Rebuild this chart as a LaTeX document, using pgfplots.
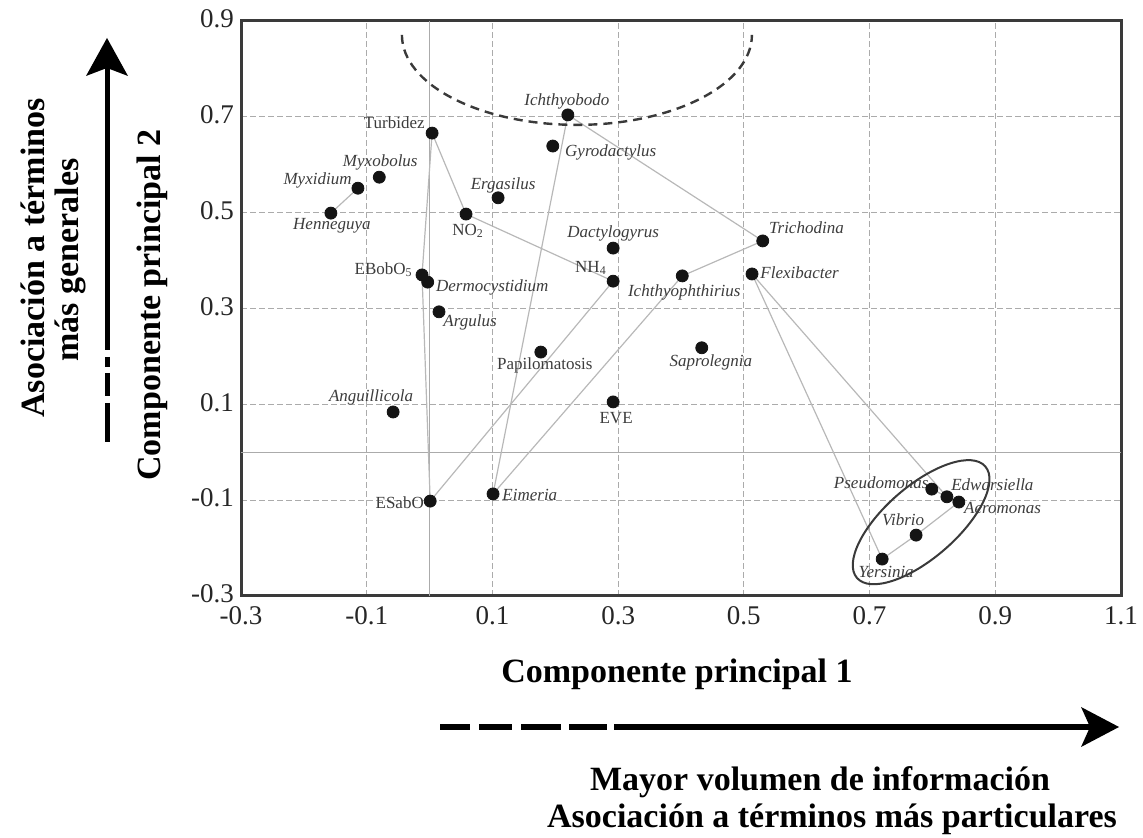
\documentclass[border=0pt]{standalone}
\usepackage{pgfplots}
\pgfplotsset{compat=1.18}
\usepackage{pgfplotstable}
\usepackage{fontspec}
\setmainfont{Liberation Serif}

\definecolor{dotc}{HTML}{141414}
\definecolor{linkc}{HTML}{B8B8B8}
\definecolor{labc}{HTML}{3C3C3C}
\definecolor{gridc}{HTML}{ABABAB}
\definecolor{framec}{HTML}{3A3A3A}

% loadings of each term on the first two principal components
\pgfplotstableread{
x       y
 0.220   0.704
 0.196   0.639
 0.004   0.666
-0.080   0.574
-0.114   0.551
-0.157   0.499
 0.109   0.531
 0.058   0.497
 0.292   0.426
 0.292   0.357
 0.402   0.368
 0.530   0.441
 0.513   0.372
-0.012   0.370
-0.003   0.355
 0.015   0.293
 0.177   0.209
 0.433   0.218
 0.292   0.105
-0.058   0.084
 0.001  -0.102
 0.101  -0.087
 0.799  -0.077
 0.823  -0.093
 0.842  -0.104
 0.774  -0.173
 0.720  -0.223
}\loadings

\tikzset{
  lbl/.style={font=\fontsize{8.5}{10}\selectfont, text=labc, inner sep=0pt},
  link/.style={draw=linkc, line width=0.6pt, mark=none},
  big/.style={font=\fontsize{17}{20}\selectfont\bfseries, inner sep=0pt},
}

\begin{document}
\begin{tikzpicture}
\useasboundingbox (0pt,0pt) rectangle (571.5pt,419pt);
\begin{axis}[
  at={(120.5pt,408.5pt)}, anchor=north west,
  width=440pt, height=287.5pt, scale only axis,
  xmin=-0.3, xmax=1.1, ymin=-0.3, ymax=0.9,
  xtick={-0.3,-0.1,0.1,0.3,0.5,0.7,0.9,1.1},
  xticklabels={-0.3,-0.1,0.1,0.3,0.5,0.7,0.9,1.1},
  ytick={-0.3,-0.1,0.1,0.3,0.5,0.7,0.9},
  yticklabels={-0.3,-0.1,0.1,0.3,0.5,0.7,0.9},
  major tick length=0pt,
  tick label style={font=\fontsize{13.5}{16}\selectfont, text=black!85},
  xticklabel style={inner sep=0pt, yshift=-5pt},
  yticklabel style={yshift=1pt},
  grid=major,
  major grid style={draw=gridc, line width=0.5pt, dash pattern=on 3pt off 1.5pt},
  extra x ticks={0}, extra y ticks={0},
  extra x tick labels={}, extra y tick labels={},
  extra tick style={grid=major, major grid style={draw=gridc, line width=0.6pt, solid}},
  axis line style={draw=framec, line width=1.5pt},
  clip=false,
]
% links between related terms
\addplot[link] coordinates {(-0.157,0.499) (-0.114,0.551)};
\addplot[link] coordinates {(0.004,0.666) (-0.012,0.370)};
\addplot[link] coordinates {(0.004,0.666) (0.058,0.497)};
\addplot[link] coordinates {(0.058,0.497) (0.292,0.357)};
\addplot[link] coordinates {(-0.012,0.370) (0.001,-0.102)};
\addplot[link] coordinates {(0.001,-0.102) (0.292,0.357)};
\addplot[link] coordinates {(0.220,0.704) (0.101,-0.087)};
\addplot[link] coordinates {(0.220,0.704) (0.530,0.441)};
\addplot[link] coordinates {(0.530,0.441) (0.402,0.368)};
\addplot[link] coordinates {(0.402,0.368) (0.101,-0.087)};
\addplot[link] coordinates {(0.513,0.372) (0.720,-0.223)};
\addplot[link] coordinates {(0.513,0.372) (0.823,-0.093)};
\addplot[link] coordinates {(0.720,-0.223) (0.774,-0.173) (0.842,-0.104)};
\addplot[link] coordinates {(0.799,-0.077) (0.823,-0.093) (0.842,-0.104)};

% terms
\addplot[only marks, mark=*, mark size=3pt, mark options={draw=dotc, fill=dotc}] table {\loadings};

% groups
\draw[framec, line width=1.2pt, dash pattern=on 4.5pt off 3pt]
  (axis cs:-0.044,0.871) arc[start angle=180, end angle=360, x radius=87.5pt, y radius=45pt];
\draw[framec, line width=1pt, rotate around={41:(axis cs:0.782,-0.146)}]
  (axis cs:0.782,-0.146) ellipse [x radius=42.5pt, y radius=18pt];

% term labels
\node[lbl, anchor=center, xshift=-0.5pt, yshift=6.5pt] at (axis cs:0.220,0.704) {\itshape Ichthyobodo};
\node[lbl, anchor=west, xshift=6pt, yshift=-3pt] at (axis cs:0.196,0.639) {\itshape Gyrodactylus};
\node[lbl, anchor=east, xshift=-3.5pt, yshift=5pt] at (axis cs:0.004,0.666) {Turbidez};
\node[lbl, anchor=center, xshift=0.5pt, yshift=7.5pt] at (axis cs:-0.080,0.574) {\itshape Myxobolus};
\node[lbl, anchor=east, xshift=-3pt, yshift=4pt] at (axis cs:-0.114,0.551) {\itshape Myxidium};
\node[lbl, anchor=center, xshift=0.5pt, yshift=-6.5pt] at (axis cs:-0.157,0.499) {\itshape Henneguya};
\node[lbl, anchor=center, xshift=2.5pt, yshift=6pt] at (axis cs:0.109,0.531) {\itshape Ergasilus};
\node[lbl, anchor=center, xshift=1pt, yshift=-8.5pt] at (axis cs:0.058,0.497) {NO\textsubscript{2}};
\node[lbl, anchor=center, xshift=0pt, yshift=7.5pt] at (axis cs:0.292,0.426) {\itshape Dactylogyrus};
\node[lbl, anchor=east, xshift=-3pt, yshift=6.5pt] at (axis cs:0.292,0.357) {NH\textsubscript{4}};
\node[lbl, anchor=center, xshift=1pt, yshift=-8.5pt] at (axis cs:0.402,0.368) {\itshape Ichthyophthirius};
\node[lbl, anchor=west, xshift=3pt, yshift=6.5pt] at (axis cs:0.530,0.441) {\itshape Trichodina};
\node[lbl, anchor=west, xshift=4pt, yshift=0.5pt] at (axis cs:0.513,0.372) {\itshape Flexibacter};
\node[lbl, anchor=east, xshift=-4.5pt, yshift=2.5pt] at (axis cs:-0.012,0.370) {EBobO\textsubscript{5}};
\node[lbl, anchor=west, xshift=4pt, yshift=-2.5pt] at (axis cs:-0.003,0.355) {\itshape Dermocystidium};
\node[lbl, anchor=center, xshift=15.5pt, yshift=-5.5pt] at (axis cs:0.015,0.293) {\itshape Argulus};
\node[lbl, anchor=center, xshift=2pt, yshift=-6.5pt] at (axis cs:0.177,0.209) {Papilomatosis};
\node[lbl, anchor=center, xshift=4.5pt, yshift=-7.5pt] at (axis cs:0.433,0.218) {\itshape Saprolegnia};
\node[lbl, anchor=center, xshift=1.5pt, yshift=-8pt] at (axis cs:0.292,0.105) {EVE};
\node[lbl, anchor=center, xshift=-11pt, yshift=7.5pt] at (axis cs:-0.058,0.084) {\itshape Anguillicola};
\node[lbl, anchor=east, xshift=-3pt, yshift=-1pt] at (axis cs:0.001,-0.102) {ESabO};
\node[lbl, anchor=west, xshift=4.5pt, yshift=-0.5pt] at (axis cs:0.101,-0.087) {\itshape Eimeria};
\node[lbl, anchor=east, xshift=-1.5pt, yshift=3pt] at (axis cs:0.799,-0.077) {\itshape Pseudomonas};
\node[lbl, anchor=west, xshift=2pt, yshift=6pt] at (axis cs:0.823,-0.093) {\itshape Edwarsiella};
\node[lbl, anchor=west, xshift=2.5pt, yshift=-3pt] at (axis cs:0.842,-0.104) {\itshape Aeromonas};
\node[lbl, anchor=center, xshift=-6.5pt, yshift=7.5pt] at (axis cs:0.774,-0.173) {\itshape Vibrio};
\node[lbl, anchor=center, xshift=2pt, yshift=-6.5pt] at (axis cs:0.720,-0.223) {\itshape Yersinia};
\end{axis}

% axis titles
\node[big, anchor=base] at (338.5pt,77.5pt) {Componente principal 1};
\node[big, rotate=90, anchor=center] at (76pt,266.5pt) {Componente principal 2};

% vertical arrow and its caption
\node[big, rotate=90, anchor=center] at (16.5pt,290pt) {Asociación a términos};
\node[big, rotate=90, anchor=center] at (35pt,289pt) {más generales};
\draw[line width=2.5pt] (53.5pt,244pt) -- (53.5pt,385pt);
\draw[line width=2.5pt] (53.5pt,240.5pt) -- (53.5pt,235.5pt);
\draw[line width=2.5pt] (53.5pt,232.5pt) -- (53.5pt,221pt);
\draw[line width=2.5pt] (53.5pt,217.5pt) -- (53.5pt,198pt);
\fill (43pt,381pt) -- (53.5pt,400pt) -- (64pt,381pt) -- (53.5pt,385pt) -- cycle;

% horizontal arrow and its caption
\draw[line width=3pt] (220pt,55.5pt) -- (235pt,55.5pt);
\draw[line width=3pt] (239.5pt,55.5pt) -- (256pt,55.5pt);
\draw[line width=3pt] (260.5pt,55.5pt) -- (280.5pt,55.5pt);
\draw[line width=3pt] (284.5pt,55.5pt) -- (303.5pt,55.5pt);
\draw[line width=3pt] (307pt,55.5pt) -- (545pt,55.5pt);
\fill (540.5pt,65.5pt) -- (559.5pt,55.5pt) -- (540.5pt,45.5pt) -- (545pt,55.5pt) -- cycle;
\node[big, anchor=base] at (410pt,23.5pt) {Mayor volumen de información};
\node[big, anchor=base] at (416pt,5pt) {Asociación a términos más particulares};
\end{tikzpicture}
\end{document}
